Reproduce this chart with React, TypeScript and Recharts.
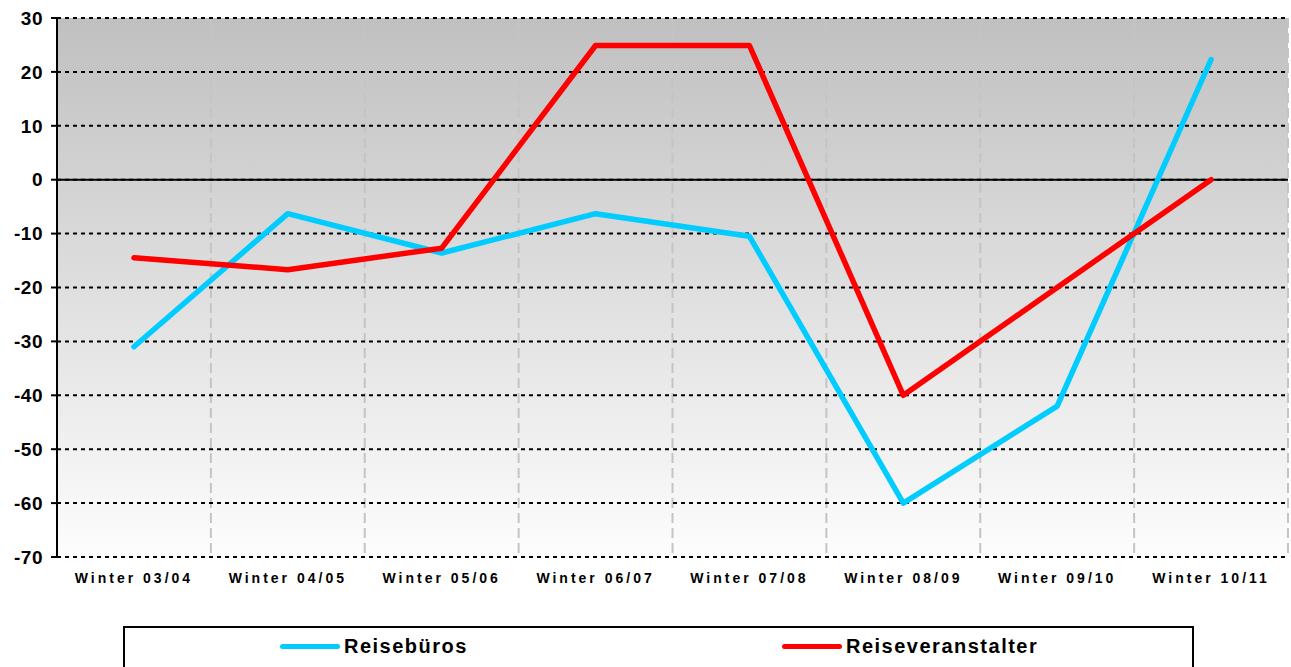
import { LineChart, Line, XAxis, YAxis, CartesianGrid, ReferenceLine } from "recharts"

const categories = [
  "Winter 03/04",
  "Winter 04/05",
  "Winter 05/06",
  "Winter 06/07",
  "Winter 07/08",
  "Winter 08/09",
  "Winter 09/10",
  "Winter 10/11",
]
const reisebueros = [-31, -6.3, -13.6, -6.3, -10.5, -60, -42, 22.3]
const reiseveranstalter = [-14.5, -16.7, -12.7, 24.9, 24.9, -40, -20, 0]
const yTicks = [-70, -60, -50, -40, -30, -20, -10, 0, 10, 20, 30]

const series = [
  { key: "reisebueros", name: "Reisebüros", color: "#00ccff" },
  { key: "reiseveranstalter", name: "Reiseveranstalter", color: "#ff0000" },
]

const data = categories.map((c, i) => ({
  name: c,
  reisebueros: reisebueros[i],
  reiseveranstalter: reiseveranstalter[i],
}))

const font = "'Liberation Sans', Arial, sans-serif"
const W = 1291
const H = 667
const margin = { top: 18, right: 3, left: 7, bottom: 80 }
const yAxisWidth = 50
// half a category, so points sit in the middle of each category slot
const halfCat = (W - margin.left - margin.right - yAxisWidth) / categories.length / 2

function LegendBox() {
  return (
    <div
      style={{
        position: "absolute",
        left: 123,
        top: 626,
        width: 1071,
        height: 50,
        border: "2px solid #000",
        borderBottom: "none",
        boxSizing: "border-box",
        display: "flex",
        paddingLeft: 155,
        paddingTop: 5,
        fontFamily: font,
        fontWeight: "bold",
        fontSize: 20,
        letterSpacing: 1.5,
        color: "#000",
        background: "#fff",
      }}
    >
      {series.map((s) => (
        <div key={s.key} style={{ display: "flex", alignItems: "center", width: 502, flexShrink: 0, height: 26 }}>
          <span
            style={{
              display: "inline-block",
              width: 60,
              height: 5,
              borderRadius: 3,
              background: s.color,
              marginRight: 4,
            }}
          />
          {s.name}
        </div>
      ))}
    </div>
  )
}

export default function App() {
  return (
    <div style={{ position: "absolute", left: 0, top: 0, width: W, height: H, background: "#fff" }}>
      <LineChart width={W} height={H} data={data} margin={margin}>
        <defs>
          <linearGradient id="bg" x1="0" y1="0" x2="0" y2="1">
            <stop offset="0%" stopColor="#c0c0c0" />
            <stop offset="100%" stopColor="#fdfdfd" />
          </linearGradient>
        </defs>
        <CartesianGrid
          horizontal={false}
          fill="url(#bg)"
          stroke="#c4c4c4"
          strokeWidth={2}
          strokeDasharray="10 5"
          verticalCoordinatesGenerator={({ offset }: any) =>
            categories.map((_, i) => offset.left + (offset.width * (i + 1)) / categories.length)
          }
        />
        <CartesianGrid vertical={false} stroke="#000" strokeWidth={2} strokeDasharray="4 4" />
        <XAxis
          dataKey="name"
          axisLine={false}
          tickLine={false}
          tickSize={0}
          tickMargin={16}
          height={30}
          interval={0}
          padding={{ left: halfCat, right: halfCat }}
          tick={{ fill: "#000", fontFamily: font, fontWeight: "bold", fontSize: 14, letterSpacing: 3 }}
        />
        <YAxis
          width={yAxisWidth}
          domain={[-70, 30]}
          ticks={yTicks}
          interval={0}
          axisLine={{ stroke: "#000", strokeWidth: 2 }}
          tickLine={{ stroke: "#000", strokeWidth: 2 }}
          tickSize={6}
          tickMargin={8}
          tick={{ fill: "#000", fontFamily: font, fontWeight: "bold", fontSize: 19, letterSpacing: 0.5 }}
        />
        <ReferenceLine y={0} stroke="#000" strokeWidth={2} />
        {series.map((s) => (
          <Line
            key={s.key}
            type="linear"
            dataKey={s.key}
            name={s.name}
            stroke={s.color}
            strokeWidth={5.5}
            strokeLinecap="round"
            strokeLinejoin="round"
            dot={false}
            activeDot={false}
            isAnimationActive={false}
          />
        ))}
      </LineChart>
      <LegendBox />
    </div>
  )
}
